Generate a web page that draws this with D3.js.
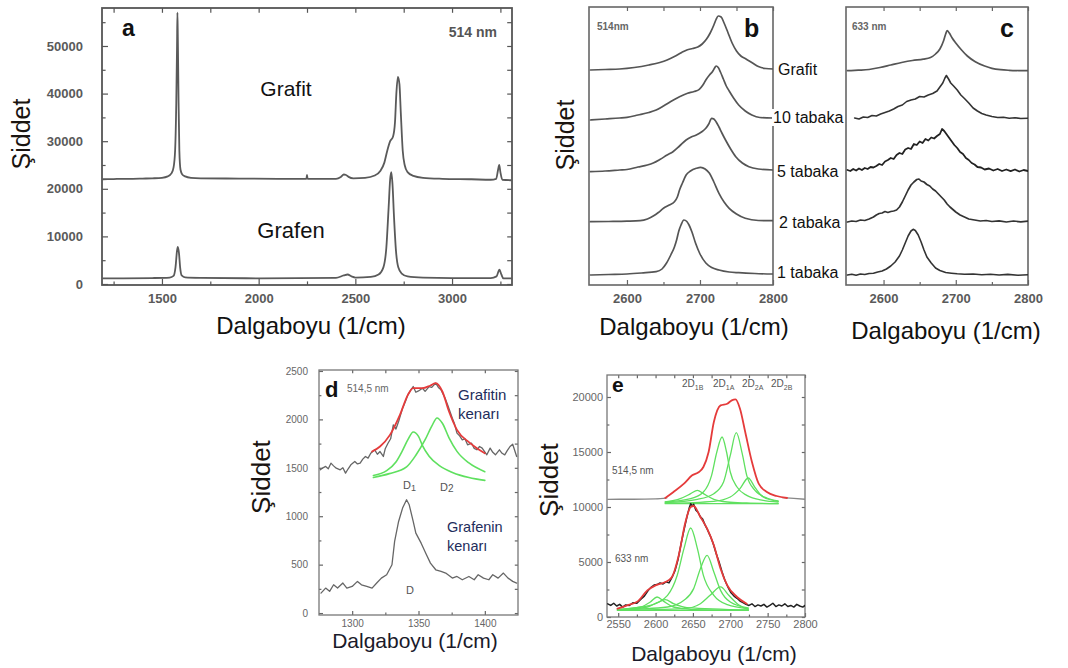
<!DOCTYPE html>
<html><head><meta charset="utf-8">
<script src="https://cdn.jsdelivr.net/npm/d3@7"></script>
<style>body{margin:0;background:#fff}svg{display:block;font-family:Arial,"Liberation Sans",sans-serif}</style>
</head><body><svg width="1068" height="668"></svg>
<script>
// ---------------- DATA ----------------
// Panel a (514 nm), wavenumber vs intensity
const aXMajor = [1500, 2000, 2500, 3000];
const aXMinor = [1250, 1750, 2250, 2750, 3250];
const aYMajor = [0, 10000, 20000, 30000, 40000, 50000];
const aYMinor = [5000, 15000, 25000, 35000, 45000, 55000];
const aGrafit = [[1195,22000],[1250,22050],[1300,22100],[1350,22100],[1400,22150],[1450,22200],[1500,22300],[1530,22600],[1550,23300],[1560,24500],[1568,28000],[1574,38000],[1578,50000],[1580,57000],[1582,52000],[1586,38000],[1590,28000],[1596,24000],[1605,23000],[1620,22600],[1650,22300],[1700,22200],[1900,22150],[2100,22100],[2240,22100],[2247,22100],[2250,22900],[2253,22100],[2400,22100],[2425,22500],[2440,23000],[2452,22900],[2465,22500],[2490,22200],[2550,22300],[2600,22800],[2630,23800],[2650,25500],[2665,28000],[2680,30000],[2695,31000],[2705,34000],[2712,40000],[2720,43500],[2728,42000],[2735,36000],[2745,28000],[2755,25000],[2770,23500],[2800,22700],[2850,22300],[2950,22100],[3100,22000],[3200,21900],[3228,22100],[3238,24000],[3244,25000],[3250,23500],[3260,21900],[3305,21800]];
const aGrafen = [[1195,1200],[1300,1200],[1450,1250],[1540,1350],[1560,1700],[1570,3500],[1578,7000],[1582,7800],[1588,6500],[1594,3500],[1602,1800],[1620,1400],[1700,1300],[2000,1200],[2400,1300],[2440,1800],[2460,2000],[2480,1600],[2500,1350],[2580,1500],[2620,2000],[2645,3500],[2660,7500],[2672,16000],[2680,22000],[2686,23500],[2692,21000],[2700,14000],[2710,7000],[2722,3500],[2740,2200],[2770,1600],[2850,1350],[3000,1250],[3200,1250],[3230,1600],[3245,3000],[3255,2000],[3265,1200],[3305,1200]];

// Panels b and c (arbitrary stacked intensity), x ticks
const bcXMajor = [2600, 2700, 2800];
const bcXMinor = [2650, 2750];
const layerNames = ["Grafit", "10 tabaka", "5 tabaka", "2 tabaka", "1 tabaka"];
// b : 514 nm
const bGrafit = [[2550,215],[2570,215.5],[2590,216],[2610,217.5],[2630,220],[2645,222.5],[2655,225],[2665,228.5],[2675,232.5],[2682,235],[2690,236.5],[2697,238],[2703,241],[2709,246],[2714,252],[2719,260],[2722,265.5],[2725,269],[2729,268],[2733,262],[2738,253],[2744,242],[2750,234],[2756,229],[2763,226],[2772,222],[2780,218.5],[2790,216.5],[2800,216]];
const b10 = [[2550,165],[2570,166],[2590,167],[2600,167.7],[2615,170],[2630,172.5],[2640,175],[2650,179],[2660,183.5],[2672,188.3],[2683,191.7],[2692,193.5],[2699,195.7],[2704,200],[2708,205],[2713,210],[2717,213.3],[2720,217],[2722,219],[2725,217.5],[2728,213],[2732,206],[2736,199],[2740,194],[2746,187],[2753,180],[2762,174],[2771,170],[2782,167.5],[2800,167]];
const b5 = [[2550,113.3],[2570,114],[2590,115],[2600,115.5],[2615,118],[2628,120],[2636,122],[2645,125.5],[2655,130],[2663,133.3],[2672,139],[2681,145],[2688,148],[2695,150],[2702,153],[2708,156.7],[2712,161],[2716,166.7],[2719,166],[2722,163.3],[2726,158],[2730,152],[2735,145],[2742,136],[2749,128.3],[2758,122],[2767,118.3],[2780,116],[2800,115]];
const b2 = [[2550,63.3],[2575,63.5],[2600,63.8],[2618,64.3],[2628,66],[2636,69],[2643,72.5],[2650,76.7],[2658,80],[2665,83.3],[2669,88],[2672,95],[2676,102],[2681,110],[2687,114],[2695,116.7],[2701,117.7],[2707,116],[2713,111.7],[2719,103],[2726,91.7],[2733,83],[2740,76.7],[2750,71],[2762,66.7],[2780,64.5],[2800,64.3]];
const b1 = [[2550,10],[2575,10.5],[2600,11],[2620,12],[2640,13.3],[2648,16],[2654,21.7],[2660,30],[2665,38],[2668,45],[2671,54],[2674,60],[2678,65],[2682,63.5],[2685,60],[2689,53],[2694,41.7],[2700,31],[2708,22],[2716,17.5],[2726,15],[2740,13],[2753,12.3],[2775,11.5],[2800,11]];
// c : 633 nm
const cGrafit = [[2550,214.3],[2565,214.8],[2580,215.5],[2595,217.5],[2610,220],[2625,222.5],[2640,224.5],[2655,225.8],[2665,227.5],[2672,231],[2678,236],[2683,244],[2686,251],[2688,254.3],[2691,252],[2695,247],[2700,242],[2708,235],[2716,229],[2727,223.3],[2740,219],[2750,216.7],[2762,215.3],[2774,214.7],[2790,214.4],[2800,214.3]];
const c10 = [[2560,167],[2566,166],[2572,168],[2578,167.5],[2584,169.5],[2590,169],[2596,171],[2602,172.5],[2608,174],[2614,176],[2620,178.5],[2626,180],[2632,183.5],[2638,185],[2644,186],[2650,188.5],[2656,188],[2662,190],[2668,191.5],[2674,194],[2678,198],[2682,202],[2685,207],[2687,209.5],[2690,206],[2693,202],[2697,199],[2702,195],[2707,190],[2712,186.5],[2718,182],[2724,177],[2730,174],[2736,171.5],[2742,170],[2750,168.5],[2758,167.5],[2766,167.8],[2774,166.8],[2782,167.2],[2790,166.5],[2800,166.8]];
const c5 = [[2550,115],[2554,114],[2558,116],[2562,114.5],[2566,116.5],[2570,115],[2574,117],[2578,116],[2582,118],[2586,117.5],[2590,119],[2594,121],[2598,120],[2602,123.5],[2606,125],[2610,127],[2614,126],[2618,130],[2622,132],[2626,131],[2630,135.5],[2634,137],[2638,136],[2642,141],[2646,140],[2650,143.5],[2654,142],[2658,146],[2662,144.5],[2666,147.5],[2670,146.5],[2674,149],[2678,151],[2681,156],[2684,154],[2687,151],[2690,148],[2694,144],[2698,140],[2702,137],[2706,133],[2710,131],[2714,127],[2718,125],[2722,122],[2726,120.5],[2730,118],[2735,117.5],[2740,115.5],[2746,116.5],[2752,114.5],[2758,116],[2764,114],[2770,115.5],[2776,113.8],[2782,115.5],[2788,113.5],[2794,115],[2800,114]];
const c2 = [[2550,63],[2556,64],[2562,63.5],[2568,65],[2574,64.5],[2580,66],[2586,68],[2590,70],[2594,71.5],[2598,72],[2602,73.5],[2606,72.5],[2610,73.5],[2614,74],[2618,75],[2622,78],[2626,83],[2630,89],[2634,95],[2638,100],[2642,103],[2646,105.5],[2649,106],[2652,104],[2656,103],[2660,100.5],[2664,99],[2668,96],[2672,94],[2676,91],[2680,88],[2684,85],[2688,81],[2692,78],[2696,75.5],[2700,73],[2706,70],[2712,68],[2718,66],[2726,65],[2734,64],[2742,64.5],[2750,63.5],[2760,64.2],[2770,63],[2780,64],[2790,63.2],[2800,63.8]];
const c1 = [[2550,10],[2556,10.8],[2562,9.8],[2568,11],[2574,10.5],[2580,11.5],[2586,11.8],[2592,13],[2598,14],[2604,16],[2610,19],[2616,23],[2622,29],[2626,35],[2630,42],[2634,49],[2638,54],[2641,55.7],[2644,54.5],[2648,50],[2652,43],[2656,35],[2660,28],[2666,22],[2672,17],[2678,14.5],[2686,12.5],[2694,11.8],[2702,11.2],[2712,10.8],[2724,11],[2736,10.3],[2748,10.8],[2760,10],[2772,10.6],[2786,9.8],[2800,10.3]];

// Panel d (514,5 nm, D band)
const dXMajor = [1300, 1350, 1400];
const dXMinor = [1325, 1375];
const dYMajor = [0, 500, 1000, 1500, 2000, 2500];
const dYMinor = [250, 750, 1250, 1750, 2250];
const dGrafitEdge = [[1276,1479],[1278,1500],[1280,1514],[1282,1490],[1284,1548],[1286,1520],[1288,1496],[1291,1479],[1293,1500],[1295,1445],[1297,1490],[1299,1531],[1302,1565],[1304,1540],[1306,1548],[1308,1590],[1310,1617],[1312,1600],[1314,1651],[1317,1686],[1319,1640],[1321,1668],[1323.5,1617],[1325,1700],[1327,1754],[1329,1800],[1331,1944],[1333,1900],[1335,1978],[1338,2116],[1340,2180],[1342,2253],[1344,2300],[1346,2339],[1348,2280],[1350,2294],[1353,2322],[1355,2290],[1358,2339],[1360,2330],[1363,2374],[1365,2330],[1367,2305],[1370,2220],[1372,2150],[1375.5,2012],[1377,1960],[1379,1858],[1381,1830],[1383,1789],[1385,1800],[1387,1737],[1390,1754],[1392,1700],[1394,1686],[1396,1720],[1398,1703],[1401.5,1634],[1404,1703],[1406,1660],[1408,1634],[1411,1686],[1413,1650],[1415,1634],[1417,1680],[1419,1720],[1421,1744],[1424,1617]];
const dGrafitFit = [[1315,1668],[1321,1720],[1328.5,1840],[1336,2047],[1342,2253],[1346,2322],[1353,2322],[1359,2350],[1363,2374],[1368,2288],[1373,2081],[1379,1892],[1388,1765],[1394,1703],[1400,1651]];
const dD1 = [[1316,1420],[1326,1470],[1333,1560],[1338,1680],[1342,1790],[1346,1870],[1350,1825],[1353,1730],[1358,1620],[1366,1520],[1376,1450],[1388,1400],[1400,1370]];
const dD2 = [[1316,1400],[1328,1440],[1341,1510],[1348,1630],[1355,1790],[1360,1930],[1364,2015],[1368,1960],[1373,1810],[1379,1670],[1388,1550],[1400,1460]];
const dGrafenEdge = [[1276.5,206],[1280,258],[1283,224],[1286,292],[1289,258],[1293,310],[1296,258],[1300,275],[1304,327],[1307,292],[1311,275],[1315,258],[1318.5,310],[1322,361],[1326,396],[1330,499],[1332,740],[1335,946],[1338,1084],[1341,1170],[1343,1118],[1346,946],[1348,826],[1352,722],[1356,602],[1359,516],[1363,447],[1367,430],[1370.5,413],[1375.5,361],[1379,378],[1383,344],[1388,378],[1392,344],[1395,396],[1399,361],[1403,344],[1406,396],[1410,361],[1414,413],[1417.5,361],[1421,327],[1424,310]];

// Panel e (2D band fits)
const eXMajor = [2550, 2600, 2650, 2700, 2750, 2800];
const eXMinor = [2575, 2625, 2675, 2725, 2775];
const eYMajor = [0, 5000, 10000, 15000, 20000];
const eYMinor = [2500, 7500, 12500, 17500];
const e514BaseLeft = [[2536,10697],[2570,10700],[2600,10740],[2615,10830]];
const e514BaseRight = [[2770,10850],[2785,10780],[2800,10700]];
const e514Fit = [[2613,10818],[2624,11363],[2638,12120],[2649,12878],[2658,13180],[2664,13635],[2671,15000],[2678,17725],[2687,19240],[2696,19392],[2702,19695],[2707,19786],[2713,18937],[2720,16817],[2729,14090],[2738,12120],[2749,11363],[2762,10999],[2776,10818]];
const e514Comp = [
  [[2613,10454],[2633,10757],[2647,11211],[2656,11515],[2664,11211],[2678,10697],[2696,10454],[2722,10363],[2764,10303]],
  [[2613,10454],[2647,10757],[2664,11363],[2675,12878],[2682,15000],[2689,16362],[2695,15000],[2700,13180],[2709,11817],[2722,11060],[2744,10606],[2764,10454]],
  [[2613,10393],[2656,10697],[2678,11211],[2691,12272],[2700,14696],[2708,16757],[2716,14850],[2722,12878],[2733,11515],[2749,10818],[2764,10545]],
  [[2613,10333],[2678,10515],[2700,10909],[2713,11666],[2724,12635],[2733,11780],[2744,10909],[2764,10515]],
  [[2613,10300],[2764,10300]]
];
const e633Data = [[2536,1200],[2540,1050],[2544,1250],[2548,1000],[2552,1150],[2556,900],[2560,1100],[2565,1050],[2570,1300],[2575,1250],[2580,1600],[2585,1900],[2590,2400],[2594,2700],[2598,2900],[2602,2950],[2606,3100],[2610,3000],[2614,3200],[2618,3100],[2622,3600],[2626,4200],[2630,5200],[2634,6600],[2638,7900],[2642,9100],[2645,9900],[2647,10300],[2649,10100],[2651,10250],[2654,9700],[2657,9500],[2660,9100],[2663,8900],[2666,8400],[2669,8000],[2673,7400],[2677,6700],[2681,5800],[2685,5000],[2689,4100],[2693,3300],[2697,2700],[2701,2200],[2705,1900],[2709,1700],[2713,1450],[2717,1300],[2721,1150],[2725,1050],[2729,1200],[2733,950],[2737,1100],[2741,1000],[2745,1150],[2749,900],[2753,1050],[2757,1250],[2761,950],[2765,1100],[2769,1000],[2773,1200],[2777,950],[2781,1050],[2785,900],[2789,1150],[2793,1000],[2797,900],[2800,1050]];
const e633Fit = [[2549,760],[2562,1060],[2576,1420],[2589,2420],[2600,2880],[2613,3180],[2622,3640],[2631,5600],[2640,8640],[2647,10000],[2651,10090],[2660,9090],[2669,8030],[2678,6520],[2687,4390],[2696,2880],[2709,1820],[2722,1210]];
const e633Comp = [
  [[2549,667],[2580,909],[2593,1364],[2602,1818],[2611,1424],[2624,909],[2647,697],[2724,606]],
  [[2549,640],[2589,909],[2602,1300],[2613,1576],[2624,1212],[2642,850],[2724,640]],
  [[2549,700],[2593,1060],[2616,1970],[2629,3790],[2638,6210],[2647,8090],[2656,6210],[2664,3790],[2678,1970],[2696,1120],[2724,760]],
  [[2549,640],[2616,910],[2638,1520],[2651,2580],[2660,4390],[2669,5600],[2678,4090],[2687,2420],[2700,1360],[2724,820]],
  [[2549,606],[2638,760],[2660,1210],[2673,1970],[2687,2730],[2698,1970],[2711,1120],[2724,700]],
  [[2549,606],[2724,606]]
];
const eBandLabels = [["2D","1B"],["2D","1A"],["2D","2A"],["2D","2B"]];

// ---------------- DRAWING ----------------
const svg = d3.select("svg");
const FONT = 'Arial, "Liberation Sans", sans-serif';

function panel(o) {
  const x = d3.scaleLinear().domain(o.xd).range([o.l, o.r]);
  const y = d3.scaleLinear().domain(o.yd).range([o.b, o.t]);
  const g = svg.append("g");
  const id = "clip_" + o.name;
  svg.append("clipPath").attr("id", id).append("rect")
    .attr("x", o.l).attr("y", o.t).attr("width", o.r - o.l).attr("height", o.b - o.t);
  const style = sel => {
    sel.select(".domain").remove();
    sel.attr("font-family", FONT).attr("font-size", o.fs);
    sel.selectAll("line").attr("stroke", o.tickColor).attr("stroke-width", 1.2);
    sel.selectAll("text").attr("fill", o.labelColor).attr("font-weight", o.fw);
  };
  const fmt = d3.format("d");
  g.append("g").attr("transform", `translate(0,${o.b})`)
    .call(d3.axisBottom(x).tickValues(o.xMajor).tickSize(-o.tk).tickSizeOuter(0).tickPadding(o.xPad).tickFormat(fmt)).call(style);
  g.append("g").attr("transform", `translate(0,${o.b})`)
    .call(d3.axisBottom(x).tickValues(o.xMinor).tickSize(-o.tk * 0.6).tickSizeOuter(0).tickFormat("")).call(style);
  g.append("g").attr("transform", `translate(0,${o.t})`)
    .call(d3.axisTop(x).tickValues(o.xMajor.concat(o.xMinor)).tickSize(-o.tk * 0.8).tickSizeOuter(0).tickFormat("")).call(style);
  if (o.yMajor) {
    g.append("g").attr("transform", `translate(${o.l},0)`)
      .call(d3.axisLeft(y).tickValues(o.yMajor).tickSize(-o.tk).tickSizeOuter(0).tickPadding(o.yPad).tickFormat(fmt)).call(style);
    g.append("g").attr("transform", `translate(${o.l},0)`)
      .call(d3.axisLeft(y).tickValues(o.yMinor).tickSize(-o.tk * 0.6).tickSizeOuter(0).tickFormat("")).call(style);
    g.append("g").attr("transform", `translate(${o.r},0)`)
      .call(d3.axisRight(y).tickValues(o.yMajor.concat(o.yMinor)).tickSize(-o.tk * 0.8).tickSizeOuter(0).tickFormat("")).call(style);
  }
  const lines = svg.append("g").attr("clip-path", `url(#${id})`);
  g.append("rect").attr("x", o.l).attr("y", o.t).attr("width", o.r - o.l).attr("height", o.b - o.t)
    .attr("fill", "none").attr("stroke", o.frameColor).attr("stroke-width", o.frameW);
  return { x, y, g, lines };
}

function curve(p, data, color, width, c) {
  p.lines.append("path").datum(data)
    .attr("fill", "none").attr("stroke", color).attr("stroke-width", width)
    .attr("stroke-linejoin", "round").attr("stroke-linecap", "round")
    .attr("d", d3.line().x(d => p.x(d[0])).y(d => p.y(d[1])).curve(c || d3.curveMonotoneX));
}

function text(x, y, s, opt = {}) {
  const t = svg.append("text").attr("x", x).attr("y", y).text(s)
    .attr("font-family", FONT).attr("font-size", opt.fs || 14)
    .attr("fill", opt.fill || "#111").attr("font-weight", opt.fw || "normal")
    .attr("text-anchor", opt.anchor || "start");
  if (opt.rotate) t.attr("transform", `rotate(-90,${x},${y})`);
  return t;
}

// ---- Panel a ----
const pa = panel({ name: "a", l: 102, r: 512, t: 8, b: 285, xd: [1190, 3310], yd: [-210, 57980],
  xMajor: aXMajor, xMinor: aXMinor, yMajor: aYMajor, yMinor: aYMinor,
  tk: 6, xPad: 9, yPad: 19, fs: 13, fw: "bold", labelColor: "#5a5a5a", tickColor: "#555", frameColor: "#555", frameW: 1.8 });
curve(pa, aGrafit, "#5a5a5a", 1.8);
curve(pa, aGrafen, "#5a5a5a", 1.8);
text(122, 36, "a", { fs: 23, fw: "bold" });
text(497, 37, "514 nm", { fs: 14, fw: "bold", fill: "#555", anchor: "end" });
text(286, 96, "Grafit", { fs: 21, anchor: "middle" });
text(291, 238, "Grafen", { fs: 22, anchor: "middle" });
text(30, 134, "Şiddet", { fs: 25, anchor: "middle", rotate: true, fill: "#1a1410" });
text(311, 334, "Dalgaboyu (1/cm)", { fs: 24, anchor: "middle" });

// ---- Panel b ----
const pb = panel({ name: "b", l: 589, r: 773, t: 7, b: 285, xd: [2548, 2800], yd: [0, 278],
  xMajor: bcXMajor, xMinor: bcXMinor, tk: 5, xPad: 9, fs: 13, fw: "bold",
  labelColor: "#5a5a5a", tickColor: "#666", frameColor: "#666", frameW: 1.6 });
[bGrafit, b10, b5, b2, b1].forEach(dd => curve(pb, dd, "#555", 1.7));
text(597, 30, "514nm", { fs: 10, fw: "bold", fill: "#666" });
text(744, 37, "b", { fs: 25, fw: "bold" });
text(574, 135, "Şiddet", { fs: 25, anchor: "middle", rotate: true, fill: "#1a1410" });
text(694, 335, "Dalgaboyu (1/cm)", { fs: 24, anchor: "middle" });

// ---- Panel c ----
const pc = panel({ name: "c", l: 846, r: 1028, t: 7, b: 285, xd: [2548, 2800], yd: [0, 278],
  xMajor: bcXMajor, xMinor: bcXMinor, tk: 5, xPad: 9, fs: 13, fw: "bold",
  labelColor: "#5a5a5a", tickColor: "#666", frameColor: "#666", frameW: 1.6 });
curve(pc, cGrafit, "#555", 1.7);
curve(pc, c10, "#333", 1.6, d3.curveLinear);
curve(pc, c5, "#222", 1.8, d3.curveLinear);
curve(pc, c2, "#333", 1.7, d3.curveLinear);
curve(pc, c1, "#333", 1.6, d3.curveLinear);
text(852, 30, "633 nm", { fs: 10, fw: "bold", fill: "#666" });
text(1000, 37, "c", { fs: 25, fw: "bold" });
text(946, 339, "Dalgaboyu (1/cm)", { fs: 24, anchor: "middle" });

// layer labels between b and c
const layerPos = [[778, 75], [773, 123], [777, 177], [779, 228], [777, 278]];
layerNames.forEach((n, i) => {
  const t = text(layerPos[i][0], layerPos[i][1], n, { fs: 16 });
  const bb = t.node().getBBox();
  svg.insert("rect", () => t.node()).attr("x", bb.x - 1).attr("y", bb.y).attr("width", bb.width + 2).attr("height", bb.height).attr("fill", "#fff");
});

// ---- Panel d ----
const pd = panel({ name: "d", l: 319, r: 518, t: 370, b: 615, xd: [1275, 1425], yd: [-20, 2510],
  xMajor: dXMajor, xMinor: dXMinor, yMajor: dYMajor, yMinor: dYMinor,
  tk: 4, xPad: 5, yPad: 11, fs: 10, fw: "normal", labelColor: "#666", tickColor: "#666", frameColor: "#777", frameW: 1.3 });
curve(pd, dGrafitEdge, "#666", 1.3, d3.curveLinear);
curve(pd, dD1, "#5fe05f", 1.6);
curve(pd, dD2, "#5fe05f", 1.6);
curve(pd, dGrafitFit, "#e53b3b", 1.8);
curve(pd, dGrafenEdge, "#666", 1.3, d3.curveLinear);
text(325, 397, "d", { fs: 22, fw: "bold" });
text(347, 392, "514,5 nm", { fs: 10, fill: "#666" });
text(458, 400, "Grafitin", { fs: 15, fill: "#1e2d5c" });
text(458, 419, "kenarı", { fs: 15, fill: "#1e2d5c" });
text(447, 532, "Grafenin", { fs: 14.5, fill: "#1e2d5c" });
text(447, 551, "kenarı", { fs: 14.5, fill: "#1e2d5c" });
const dl1 = text(403, 489, "D", { fs: 11, fill: "#555" }); dl1.append("tspan").attr("dy", 2).attr("font-size", 9).text("1");
const dl2 = text(440, 491, "D", { fs: 11, fill: "#555" }); dl2.append("tspan").attr("dy", 1).attr("font-size", 10).text("2");
text(406, 594, "D", { fs: 11, fill: "#555" });
text(270, 477, "Şiddet", { fs: 26, anchor: "middle", rotate: true, fill: "#1a1410" });
text(415, 648, "Dalgaboyu (1/cm)", { fs: 21, anchor: "middle", fill: "#1a1a2a" });

// ---- Panel e ----
const pe = panel({ name: "e", l: 607, r: 805, t: 375, b: 617, xd: [2535, 2800], yd: [0, 22000],
  xMajor: eXMajor, xMinor: eXMinor, yMajor: eYMajor, yMinor: eYMinor,
  tk: 4, xPad: 3, yPad: 4, fs: 11, fw: "normal", labelColor: "#666", tickColor: "#666", frameColor: "#777", frameW: 1.3 });
curve(pe, e514BaseLeft, "#888", 1.4);
curve(pe, e514BaseRight, "#888", 1.4);
e514Comp.forEach(cmp => curve(pe, cmp, "#5fe05f", 1.3));
curve(pe, e514Fit, "#e53b3b", 1.8);
curve(pe, e633Data, "#222", 1.5, d3.curveLinear);
e633Comp.forEach(cmp => curve(pe, cmp, "#5fe05f", 1.3));
curve(pe, e633Fit, "#e53b3b", 1.8);
text(612, 392, "e", { fs: 21, fw: "bold" });
text(612, 474, "514,5 nm", { fs: 10, fill: "#555" });
text(615, 562, "633 nm", { fs: 10, fill: "#555" });
const bandX = [682, 713, 742, 771];
eBandLabels.forEach((lb, i) => {
  const t = text(bandX[i], 387, lb[0], { fs: 10, fill: "#555" });
  t.append("tspan").attr("dy", 3).attr("font-size", 7).text(lb[1]);
});
text(558, 480, "Şiddet", { fs: 26, anchor: "middle", rotate: true, fill: "#1a1410" });
text(714, 661, "Dalgaboyu (1/cm)", { fs: 21, anchor: "middle", fill: "#1a1a2a" });
</script>
</body></html>
